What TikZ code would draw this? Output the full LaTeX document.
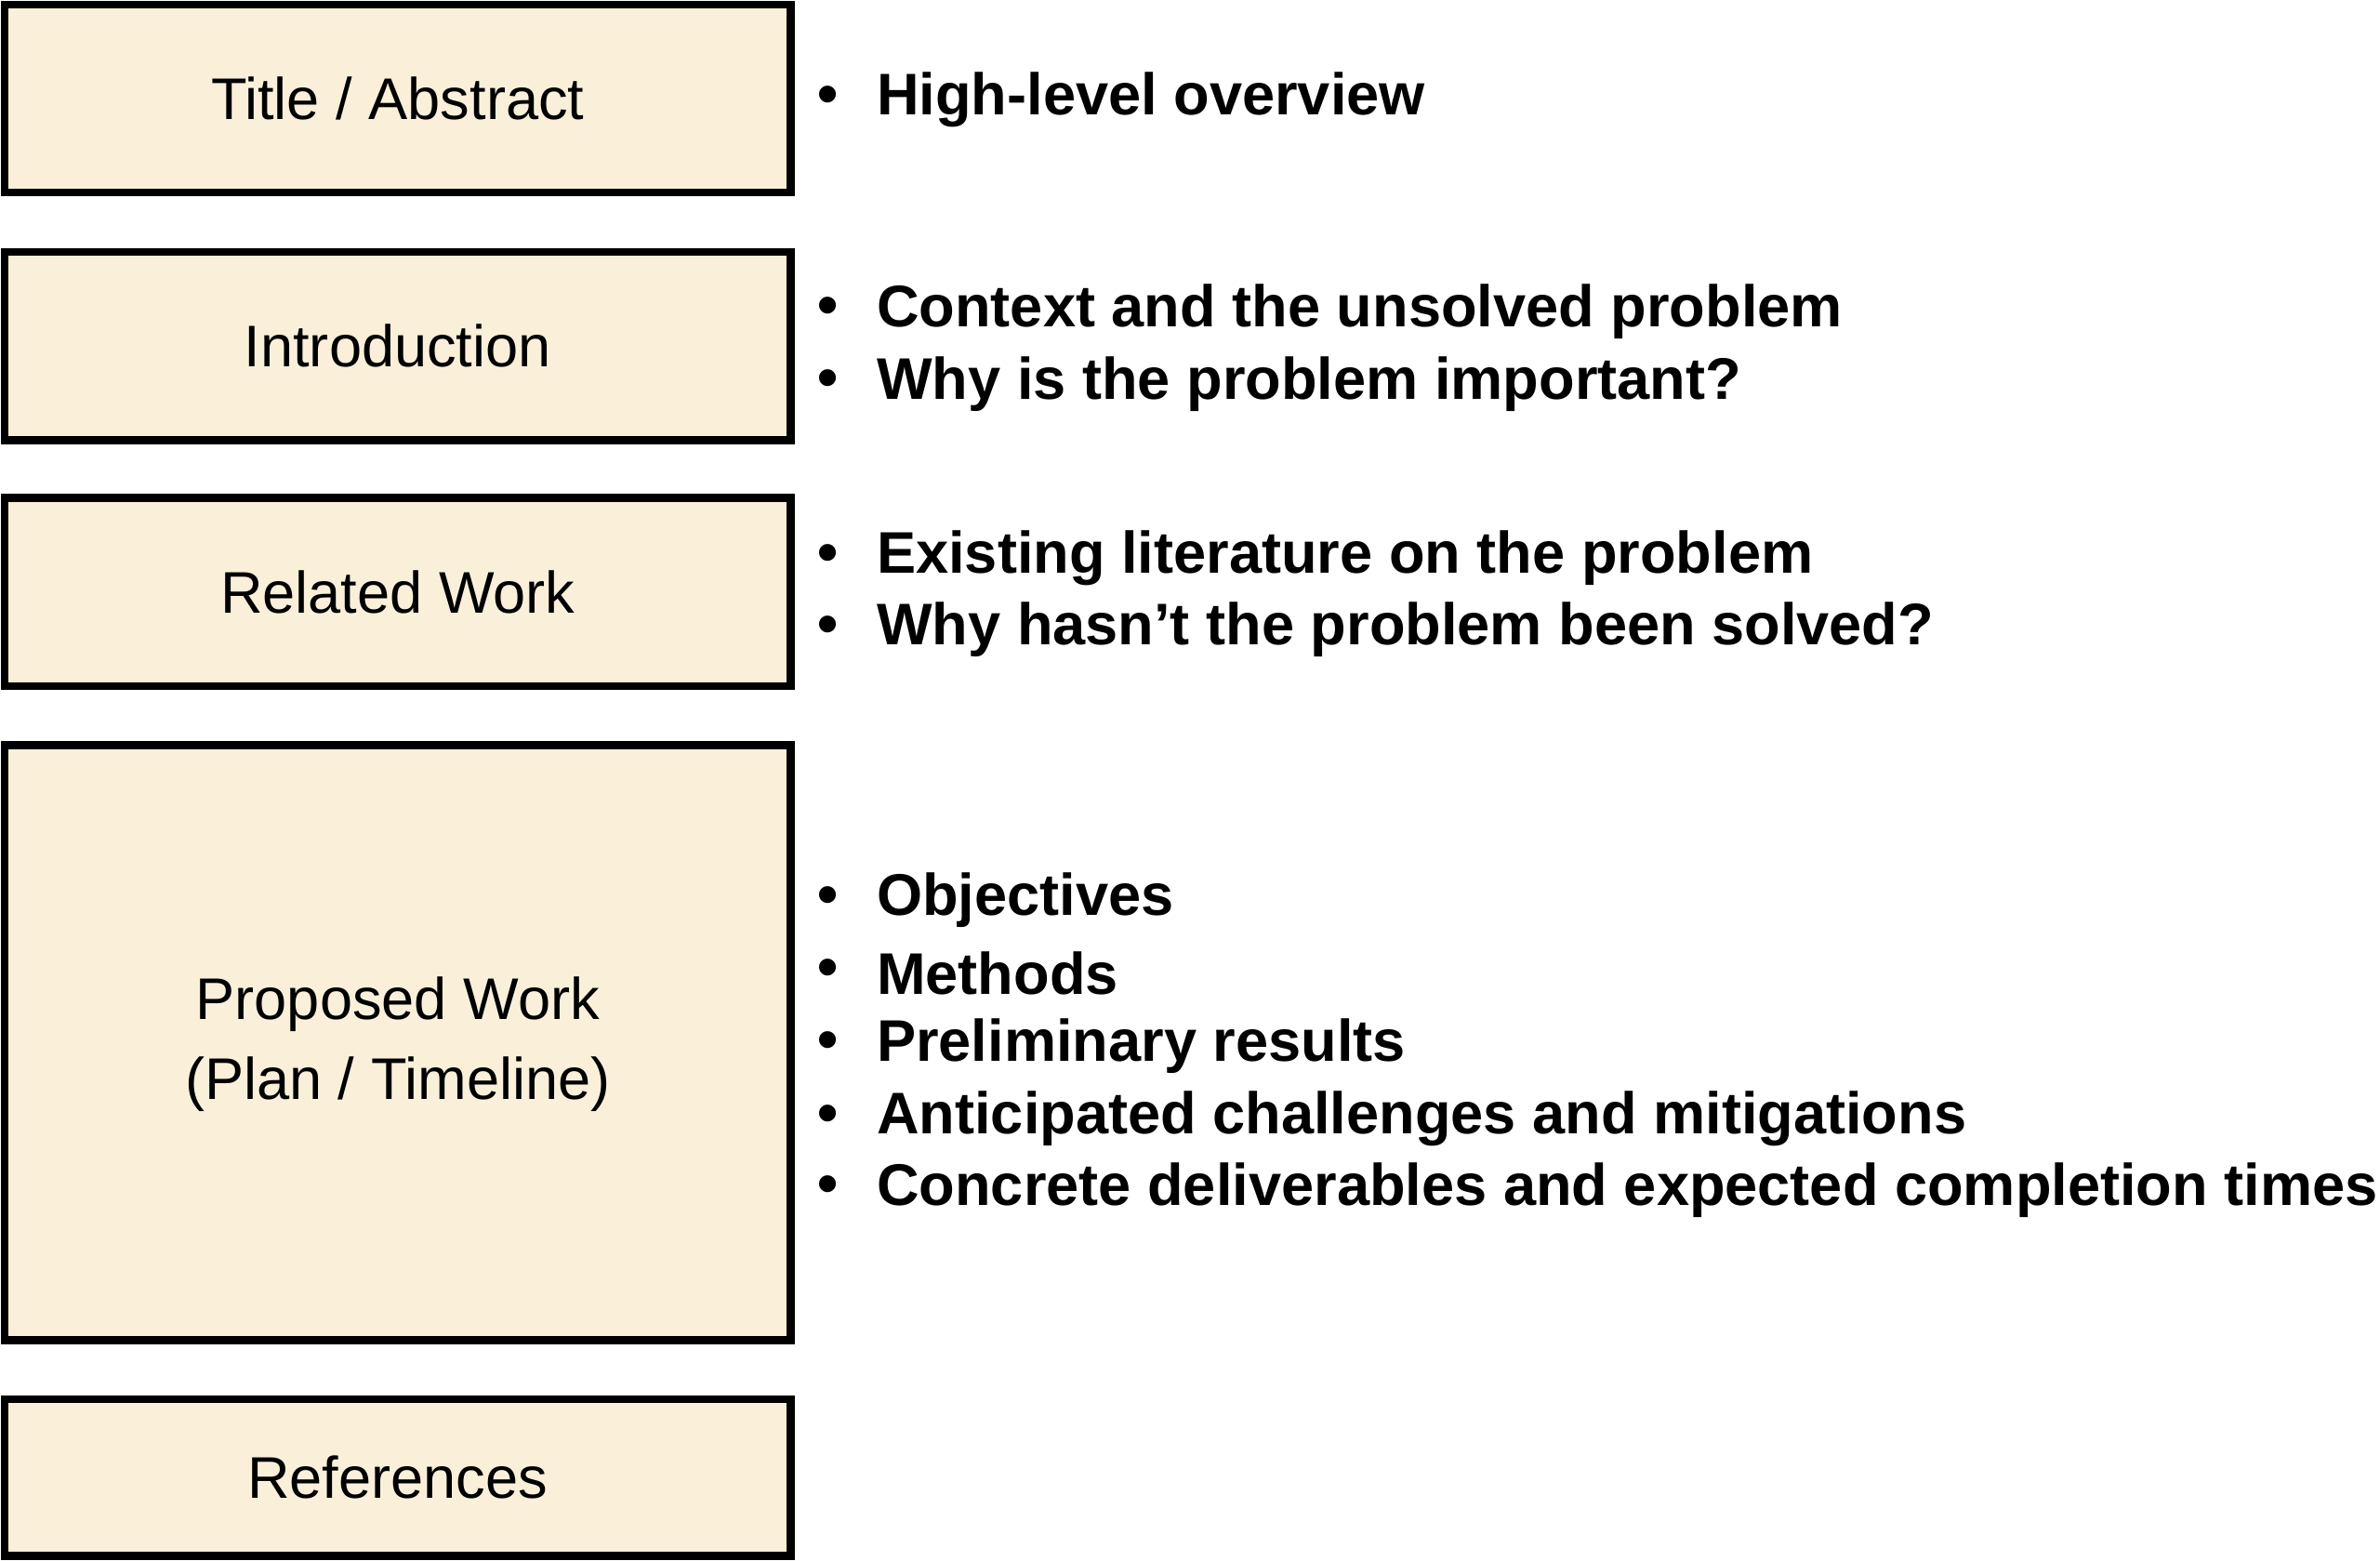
\documentclass[tikz,border=0pt]{standalone}
\usepackage{fontspec}
\setmainfont{Liberation Sans}
\begin{document}
\begin{tikzpicture}[x=0.01cm,y=-0.01cm,
 box/.style={draw=black,line width=1.45pt,fill=boxfill,align=center,font=\fontsize{11}{15}\selectfont},
 bl/.style={anchor=west,font=\bfseries\fontsize{11}{13}\selectfont,inner sep=0pt}]
\definecolor{boxfill}{HTML}{FAF0DA}
\useasboundingbox (0,0) rectangle (1568,1028);
\newcommand{\bx}[4]{\draw[box] (3,#2) rectangle (521,#3) node[midway,fill=none,draw=none] (#1) {#4};}
\draw[box] (3,3) rectangle (521,127); \node[font=\fontsize{11}{15}\selectfont] (t) at (262,65) {Title / Abstract};
\draw[box] (3,166) rectangle (521,290); \node[font=\fontsize{11}{15}\selectfont] (i) at (262,228) {Introduction};
\draw[box] (3,328) rectangle (521,452); \node[font=\fontsize{11}{15}\selectfont] (r) at (262,390) {Related Work};
\draw[box] (3,491) rectangle (521,883); \node[font=\fontsize{11}{15}\selectfont,align=center] (p) at (262,688) {Proposed Work\\(Plan / Timeline)};
\draw[box] (3,922) rectangle (521,1025); \node[font=\fontsize{11}{15}\selectfont] (f) at (262,973) {References};
\foreach \y/\t [count=\k] in {66/High-level overview,205/Context and the unsolved problem,253/Why is the problem important?,368/Existing literature on the problem,415/Why hasn’t the problem been solved?,593/Objectives,641/Methods,689/Preliminary results,737/Anticipated challenges and mitigations,784/Concrete deliverables and expected completion times}{
 \node[bl] (d\k) at (538,\y) {•};
 \node[bl] (b\k) at (577,\y) {\t};
}
\end{tikzpicture}
\end{document}
